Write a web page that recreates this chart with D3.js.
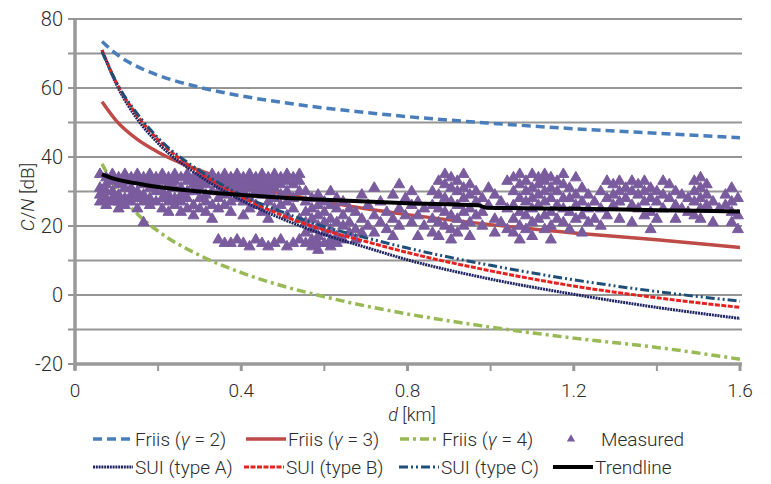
<!DOCTYPE html>
<html>
<head>
<meta charset="utf-8">
<script src="https://cdn.jsdelivr.net/npm/d3@7"></script>
<style>
  body { margin: 0; background: #fff; }
  svg text { font-family: "Roboto", "Liberation Sans", sans-serif; font-weight: 300; fill: #2b2b2b; }
</style>
</head>
<body>
<svg id="chart" width="771" height="484"></svg>
<script>
var dist = [0.065, 0.1, 0.15, 0.2, 0.3, 0.4, 0.5, 0.6, 0.7, 0.8, 1.0, 1.2, 1.4, 1.6]

var friis2 = [73.5, 69.8, 66.2, 63.7, 60.2, 57.7, 55.8, 54.2, 52.9, 51.7, 49.8, 48.2, 46.9, 45.6]
var friis3 = [56, 50.4, 45.1, 41.4, 36.1, 32.3, 29.4, 27.0, 25.0, 23.3, 20.4, 18.0, 16.0, 13.8]
var friis4 = [38, 30.5, 23.5, 18.5, 11.5, 6.5, 2.6, -0.5, -3.2, -5.5, -9.3, -12.5, -15.2, -18.6]
var suiA = [71, 61, 51, 44, 34.5, 27.5, 22, 17.5, 13.8, 10.2, 4.6, 0.2, -3.6, -6.8]
var suiB = [71, 61.5, 52, 45, 35.5, 28.5, 23, 18.8, 15.5, 12.3, 7.0, 2.6, -0.8, -3.6]
var suiC = [70.5, 61.5, 52.5, 45.5, 36, 29, 24, 19.8, 16.6, 13.6, 8.6, 4.4, 1.0, -1.8]

var trendD = [0.065, 0.1, 0.15, 0.2, 0.3, 0.4, 0.5, 0.6, 0.8, 0.97, 0.99, 1.2, 1.4, 1.6]
var trendV = [35, 33.5, 32.3, 31.3, 30, 29, 28.2, 27.6, 26.6, 26.0, 25.3, 25.0, 24.6, 24.2]

// measured C/N, grouped by distance column
var measured = [
  [0.06, [35, 31, 29, 27]], [0.075, [34, 32, 30, 28, 26]], [0.09, [35, 33, 30, 28, 27]],
  [0.105, [34, 32, 29, 27, 25]], [0.12, [35, 33, 31, 28, 26]], [0.135, [34, 31, 29, 27]],
  [0.15, [35, 33, 30, 28, 25]], [0.165, [34, 32, 29, 27, 21]], [0.18, [35, 33, 31, 28, 26]],
  [0.195, [34, 32, 30, 27]], [0.21, [35, 33, 30, 28, 25]], [0.225, [34, 32, 29, 27, 24]],
  [0.24, [35, 33, 31, 28, 26]], [0.255, [34, 31, 29, 27, 24]], [0.27, [35, 33, 30, 28, 25]],
  [0.285, [34, 32, 30, 26, 23]], [0.3, [35, 33, 31, 28, 25]], [0.315, [34, 32, 29, 27, 24]],
  [0.33, [35, 33, 30, 26, 22]], [0.345, [34, 32, 30, 28, 25, 16]], [0.36, [35, 33, 31, 29, 26, 15]],
  [0.375, [34, 32, 30, 27, 24, 15]], [0.39, [35, 33, 31, 28, 16]], [0.405, [34, 32, 30, 27, 23, 15]],
  [0.42, [35, 33, 31, 28, 25, 14]], [0.435, [34, 32, 30, 26, 16]], [0.45, [35, 33, 31, 29, 24, 15]],
  [0.465, [34, 32, 30, 27, 22, 14]], [0.48, [35, 33, 31, 28, 25, 15]], [0.495, [34, 32, 29, 26, 16]],
  [0.51, [35, 33, 30, 27, 23, 14]], [0.525, [34, 32, 28, 25, 15]], [0.54, [35, 33, 30, 22, 16]],
  [0.555, [30, 27, 24, 21, 18, 15]], [0.57, [28, 25, 22, 19, 16, 14]], [0.585, [29, 26, 23, 20, 17, 15, 13]],
  [0.6, [27, 24, 21, 18, 15]], [0.615, [30, 26, 22, 19, 16, 14]], [0.63, [28, 25, 21, 17, 15]],
  [0.645, [27, 23, 20, 16]], [0.66, [25, 21, 18]], [0.675, [24, 19, 16]], [0.69, [29, 22, 18]],
  [0.705, [26, 20]], [0.72, [31, 23, 18]], [0.735, [27, 21]], [0.75, [24, 19]],
  [0.765, [29, 22, 17]], [0.78, [32, 25, 20]], [0.795, [28, 23]], [0.81, [30, 26, 21]],
  [0.825, [27, 23, 17]], [0.84, [25, 20]],
  [0.86, [30, 26, 22, 18]], [0.875, [33, 29, 25, 21, 17]], [0.89, [35, 32, 28, 24, 20]],
  [0.905, [34, 31, 27, 23, 19, 16]], [0.92, [33, 30, 26, 22, 18]], [0.935, [35, 31, 28, 24, 20]],
  [0.95, [32, 29, 25, 21, 17]], [0.965, [30, 27, 23]], [0.98, [28, 24, 20]], [0.995, [31, 26]],
  [1.01, [29, 22, 18]], [1.025, [27, 21]], [1.04, [33, 25, 19]],
  [1.055, [34, 30, 26, 22, 18]], [1.07, [35, 32, 28, 24, 20, 16]], [1.085, [33, 30, 27, 23, 19]],
  [1.1, [35, 31, 28, 25, 21, 17]], [1.115, [34, 32, 29, 26, 22]], [1.13, [35, 33, 30, 27, 23, 19]],
  [1.145, [34, 31, 28, 24, 20, 16]], [1.16, [33, 30, 26, 22]], [1.175, [35, 32, 28, 25, 21]],
  [1.19, [31, 28, 24, 19]], [1.205, [34, 29, 26, 22]], [1.22, [31, 27, 23, 18]],
  [1.235, [29, 25, 21]], [1.25, [27, 22]], [1.265, [30, 25, 20]], [1.28, [33, 28, 23]],
  [1.295, [32, 29, 26]], [1.31, [33, 30, 27, 22]], [1.325, [31, 28]],
  [1.34, [33, 30, 26, 21]], [1.355, [32, 29, 25]], [1.37, [33, 30, 27, 23]], [1.385, [31, 28, 24, 19]],
  [1.4, [30, 27, 22]], [1.415, [33, 29, 25]], [1.43, [32, 28]], [1.445, [30, 26, 22]],
  [1.46, [29, 25]], [1.475, [28, 24]], [1.49, [33, 30, 27, 23]], [1.505, [34, 31, 28, 25, 22]],
  [1.52, [32, 29, 26]], [1.535, [27, 21]], [1.55, [25]], [1.565, [29, 26]],
  [1.58, [31, 27, 24, 21]], [1.595, [28, 23, 19]]
]

var yTicks = [-20, -10, 0, 10, 20, 30, 40, 50, 60, 70, 80]
var xTicks = [0, 0.2, 0.4, 0.6, 0.8, 1.0, 1.2, 1.4, 1.6]

var svg = d3.select("#chart")
var x = d3.scaleLinear().domain([0, 1.6]).range([75, 740])
var y = d3.scaleLinear().domain([-20, 80]).range([364, 19])

// grid
svg.append("g").selectAll("line").data(yTicks).enter().append("line")
  .attr("x1", 68).attr("x2", 742)
  .attr("y1", function(d) { return y(d) }).attr("y2", function(d) { return y(d) })
  .attr("stroke", "#959595").attr("stroke-width", 2)

// axes
svg.append("line").attr("x1", x(0)).attr("x2", x(0)).attr("y1", y(80)).attr("y2", y(-20) + 6)
  .attr("stroke", "#999").attr("stroke-width", 3.5)
svg.append("line").attr("x1", x(0)).attr("x2", 742).attr("y1", y(-20)).attr("y2", y(-20))
  .attr("stroke", "#999").attr("stroke-width", 3.5)
svg.append("g").selectAll("line").data(xTicks).enter().append("line")
  .attr("x1", function(d) { return x(d) }).attr("x2", function(d) { return x(d) })
  .attr("y1", y(-20)).attr("y2", y(-20) + 7)
  .attr("stroke", "#999").attr("stroke-width", function(d, i) { return i % 2 == 0 ? 3 : 2 })

svg.append("g").selectAll("text").data(yTicks.filter(function(d) { return d % 20 == 0 })).enter().append("text")
  .attr("x", 63).attr("y", function(d) { return y(d) + 7 })
  .attr("text-anchor", "end").attr("font-size", 20)
  .text(function(d) { return d })
svg.append("g").selectAll("text").data(xTicks.filter(function(d, i) { return i % 2 == 0 })).enter().append("text")
  .attr("x", function(d) { return x(d) }).attr("y", 397)
  .attr("text-anchor", "middle").attr("font-size", 19)
  .text(function(d) { return d })

svg.append("text").attr("x", 412).attr("y", 421).attr("text-anchor", "middle").attr("font-size", 18)
  .html('<tspan font-style="italic">d</tspan> [km]')
svg.append("text").attr("transform", "translate(34,197) rotate(-90)").attr("text-anchor", "middle").attr("font-size", 19)
  .html('<tspan font-style="italic">C</tspan>/<tspan font-style="italic">N</tspan> [dB]')

var styles = {
  friis2: { color: "#4a7ebb", dash: "9,5", width: 3.5 },
  friis3: { color: "#be4b48", dash: null, width: 3.5 },
  friis4: { color: "#98b954", dash: "9,4,3,4", width: 3.5 },
  suiA: { color: "#1f2462", dash: "2,0.8", width: 3 },
  suiB: { color: "#e42320", dash: "5,1.5", width: 3 },
  suiC: { color: "#1f4e79", dash: "9,3,2,3,2,3", width: 3 },
  trend: { color: "#000", dash: null, width: 4 }
}

var line = d3.line().x(function(d) { return x(d[0]) }).y(function(d) { return y(d[1]) }).curve(d3.curveMonotoneX)
var plot = svg.append("g")

function drawSeries(vals, ds, st) {
  var pts = ds.map(function(d, i) { return [d, vals[i]] })
  plot.append("path").attr("d", line(pts)).attr("fill", "none")
    .attr("stroke", st.color).attr("stroke-width", st.width)
    .attr("stroke-dasharray", st.dash)
}

drawSeries(friis2, dist, styles.friis2)
drawSeries(friis3, dist, styles.friis3)
drawSeries(friis4, dist, styles.friis4)

var measPts = []
measured.forEach(function(c) { c[1].forEach(function(v) { measPts.push([c[0], v]) }) })
var tri = d3.symbol().type(d3.symbolTriangle).size(52)
plot.append("g").selectAll("path").data(measPts).enter().append("path")
  .attr("d", tri)
  .attr("transform", function(d) { return "translate(" + x(d[0]) + "," + y(d[1]) + ")" })
  .attr("fill", "#7a5c9e").attr("stroke", "#7a5c9e").attr("stroke-width", 1).attr("stroke-linejoin", "round")

drawSeries(suiA, dist, styles.suiA)
drawSeries(suiB, dist, styles.suiB)
drawSeries(suiC, dist, styles.suiC)
drawSeries(trendV, trendD, styles.trend)

// legend
var legendRows = [
  [['Friis (<tspan font-style="italic">\u03b3</tspan> = 2)', "friis2", 93], ['Friis (<tspan font-style="italic">\u03b3</tspan> = 3)', "friis3", 246],
   ['Friis (<tspan font-style="italic">\u03b3</tspan> = 4)', "friis4", 400], ["Measured", "meas", 560]],
  [["SUI (type A)", "suiA", 93], ["SUI (type B)", "suiB", 244], ["SUI (type C)", "suiC", 399], ["Trendline", "trend", 553]]
]
var legendY = [439, 467]
legendRows.forEach(function(row, r) {
  row.forEach(function(item) {
    var g = svg.append("g").attr("transform", "translate(" + item[2] + "," + legendY[r] + ")")
    if (item[1] == "meas") {
      g.append("path").attr("d", d3.symbol().type(d3.symbolTriangle).size(30)).attr("transform", "translate(11,0)").attr("fill", "#7a5c9e")
      g.append("text").attr("x", 41).attr("y", 7).attr("font-size", 19).html(item[0])
    } else {
      var st = styles[item[1]]
      g.append("line").attr("x1", 0).attr("x2", 40).attr("y1", 0).attr("y2", 0)
        .attr("stroke", st.color).attr("stroke-width", st.width).attr("stroke-dasharray", st.dash)
      g.append("text").attr("x", 42).attr("y", 7).attr("font-size", 19).html(item[0])
    }
  })
})
</script>
</body>
</html>
